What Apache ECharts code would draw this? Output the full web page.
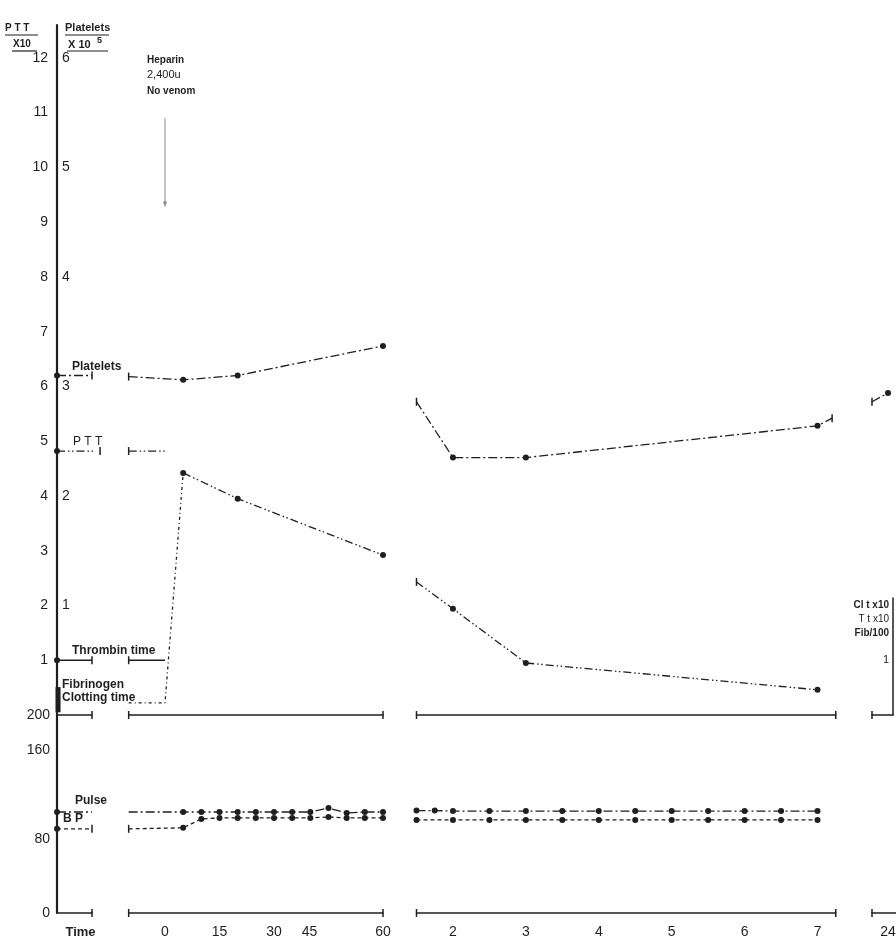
<!DOCTYPE html>
<html><head><meta charset="utf-8">
<script src="https://cdn.jsdelivr.net/npm/echarts@6/dist/echarts.min.js"></script>
<style>html,body{margin:0;padding:0;background:#fff}#c{width:896px;height:940px}</style>
</head><body><div id="c"></div>
<script>
// ================= DATA =================
// tick labels
const pttTicks = [1,2,3,4,5,6,7,8,9,10,11,12];          // PTT x10 (left, outside)
const plateletTicks = [1,2,3,4,5,6];                    // Platelets x10^5 (left, inside)
const vitalTicks = [0,80,160,200];                      // pulse / BP scale
const minuteTicks = [0,15,30,45,60];
const hourTicks = [2,3,4,5,6,7];
const dayTicks = [24];
const rightTicks = [1];                                 // Cl t x10 / T t x10 / Fib/100

// control ("Time") column: x 0 = axis, 1 = end of bracket
const ctlPlatelets = [[0,3.1],[1,3.1]];
const ctlPTT       = [[0,4.82],[1.23,4.82]];
const ctlThrombin  = [[0,1.0],[1,1.0]];
const ctlFibrinogen= [[0.03,0.05],[0.03,0.51]];
const ctlPulse     = [[0,102],[1,102]];
const ctlBP        = [[0,85],[1,85]];

// minutes column
const minPlatelets = [[-10,3.09],[5,3.06],[20,3.10],[60,3.37]];
const minPTTpre    = [[-10,4.82],[0,4.82]];
const minPTTpost   = [[5,4.42],[20,3.95],[60,2.92]];
const minThrombin  = [[-10,1.0],[0,1.0]];
const minClotting  = [[-10,0.22],[0,0.22],[5,4.42]];
const minHeparin   = [[0,10.9],[0,9.32]];
const minTimes     = [-10,5,10,15,20,25,30,35,40,45,50,55,60];
const minPulse     = [102,102,102,102,102,102,102,102,102,106,101,102,102];
const minBP        = [85,86,95,96,96,96,96,96,96,97,96,96,96];

// hours column
const hrPlatelets  = [[1.5,2.86],[2,2.35],[3,2.35],[7,2.64],[7.2,2.71]];
const hrPTT        = [[1.5,2.43],[2,1.94],[3,0.95],[7,0.46]];
const hrPulseTimes = [1.5,1.75,2,2.5,3,3.5,4,4.5,5,5.5,6,6.5,7];
const hrPulse      = [103.5,103.5,103,103,103,103,103,103,103,103,103,103,103];
const hrBPTimes    = [1.5,2,2.5,3,3.5,4,4.5,5,5.5,6,6.5,7];
const hrBP         = [94,94,94,94,94,94,94,94,94,94,94,94];

// 24 h column
const dayPlatelets = [[23.5,2.86],[24,2.94]];

// ================= CHART =================
const INK = '#1f1f1f';
const FONT = 'Liberation Sans';
const DASHDOT = [9,3,2,3];
const DASHDOT2 = [8,3,1.5,2.5,1.5,3];
const DASHED = [4,3];
const DOTTED = [3,3,1,3];

const TOP = 25, MID = 715, BOT = 913;
const topCols = [
  {left:57, width:35, min:0, max:1, caps:['none','rect']},
  {left:128.67, width:254.33, min:-10, max:60, caps:['rect','rect']},
  {left:416.5, width:419.25, min:1.5, max:7.25, caps:['rect','rect']},
  {left:872, width:21, min:23.5, max:24.15625, caps:['rect','none']}
];
const botCols = [
  {left:57, width:35, min:0, max:1, caps:['none','rect'], ticks:[], name:'Time'},
  {left:128.67, width:254.33, min:-10, max:60, interval:5, caps:['rect','rect'], ticks:minuteTicks},
  {left:416.5, width:419.25, min:1.5, max:7.25, interval:0.5, caps:['rect','rect'], ticks:hourTicks},
  {left:872, width:40, min:23.5, max:24.75, interval:0.5, caps:['rect','none'], ticks:dayTicks}
];

const grid = [], xAxis = [], yAxis = [];
const axLine = (caps) => ({show:true, onZero:false, symbol:caps, symbolSize:[8,1.5], lineStyle:{color:INK, width:1.5}});
const labelBase = {color:INK, fontFamily:FONT, fontSize:14};
const G = (left, width, top, height) => ({left, width, top, height, containLabel:false, outerBoundsMode:'none'});

topCols.forEach((c,i) => {
  grid.push(G(c.left, c.width, TOP, MID-TOP));
  xAxis.push({type:'value', gridIndex:i, min:c.min, max:c.max, axisLine:axLine(c.caps),
    axisTick:{show:false}, axisLabel:{show:false}, splitLine:{show:false}});
  const first = i === 0;
  yAxis.push({type:'value', gridIndex:i, min:0, max:12.6, interval:1, show:first,
    axisLine:{show:first, onZero:false, lineStyle:{color:INK, width:2.2}}, axisTick:{show:false}, splitLine:{show:false},
    axisLabel:Object.assign({}, labelBase, {show:first, margin:9,
      formatter:v => pttTicks.includes(v) ? String(v) : ''})});
  yAxis.push({type:'value', gridIndex:i, min:0, max:6.3, interval:1, show:first, position:'left',
    axisLine:{show:false, onZero:false}, axisTick:{show:false}, splitLine:{show:false},
    axisLabel:Object.assign({}, labelBase, {show:first, inside:true, margin:5,
      formatter:v => plateletTicks.includes(v) ? String(v) : ''})});
});
botCols.forEach((c,i) => {
  const g = 4 + i;
  grid.push(G(c.left, c.width, MID, BOT-MID));
  xAxis.push({type:'value', gridIndex:g, min:c.min, max:c.max, interval:c.interval,
    name:c.name || '', nameLocation:'middle', nameGap:13,
    nameTextStyle:{color:INK, fontFamily:FONT, fontSize:13, fontWeight:'bold', padding:[0,0,0,12]},
    axisLine:axLine(c.caps), axisTick:{show:false}, splitLine:{show:false},
    axisLabel:Object.assign({}, labelBase, {show:true, margin:12,
      formatter:v => c.ticks.includes(v) ? (v === 45 ? '{s|45}' : String(v)) : '',
      rich:{s:{color:INK, fontFamily:FONT, fontSize:14, padding:[0,38,0,0]}}})});
  const first = i === 0;
  yAxis.push({type:'value', gridIndex:g, min:0, max:200, interval:40, show:first,
    axisLine:{show:first, onZero:false, lineStyle:{color:INK, width:2.2}}, axisTick:{show:false}, splitLine:{show:false},
    axisLabel:Object.assign({}, labelBase, {show:first, margin:7,
      formatter:v => !vitalTicks.includes(v) ? '' : (v === 160 ? '{u|160}' : v === 80 ? '{d|80}' : String(v)),
      rich:{u:{color:INK, fontFamily:FONT, fontSize:14, padding:[0,0,8,0]},
            d:{color:INK, fontFamily:FONT, fontSize:14, padding:[10,0,0,0]}}})});
});
// small right-hand axis (Cl t, T t, Fib)
grid.push(G(872, 21, 598, MID-598));
xAxis.push({type:'value', gridIndex:8, min:0, max:1, show:false});
yAxis.push({type:'value', gridIndex:8, min:0, max:(MID-598)/((MID-58)/12), interval:1, position:'right',
  axisLine:{show:true, onZero:false, lineStyle:{color:INK, width:1.5}}, axisTick:{show:false}, splitLine:{show:false},
  axisLabel:{inside:true, margin:4, color:INK, fontFamily:FONT, fontSize:11,
    formatter:v => rightTicks.includes(v) ? String(v) : ''}});

const SYM = {o:'circle', '|':'rect', '-':'none'};
function line(gridIdx, yIdx, data, dash, marks, extra) {
  return Object.assign({
    type:'line', xAxisIndex:gridIdx, yAxisIndex:yIdx, data:data, clip:false,
    showAllSymbol:true, animation:false, silent:true,
    symbol:(v,p) => SYM[marks[p.dataIndex] || '-'],
    symbolSize:(v,p) => (marks[p.dataIndex] === '|') ? [1.5,8] : 6,
    itemStyle:{color:INK},
    lineStyle:{color:INK, width:1.3, type:dash}
  }, extra || {});
}
const zip = (xs, ys) => xs.map((x,i) => [x, ys[i]]);

const series = [
  // control column
  line(0,1, ctlPlatelets, DASHDOT, 'o|'),
  line(0,0, ctlPTT, DASHDOT2, 'o|'),
  line(0,0, ctlThrombin, 'solid', 'o|'),
  line(0,0, ctlFibrinogen, 'solid', '--', {lineStyle:{color:INK, width:5}}),
  line(4,8, ctlPulse, DASHDOT, 'o-'),
  line(4,8, ctlBP, DASHED, 'o|'),
  // minutes column
  line(1,3, minPlatelets, DASHDOT, '|ooo'),
  line(1,2, minPTTpre, DASHDOT2, '|-'),
  line(1,2, minPTTpost, DASHDOT2, 'ooo'),
  line(1,2, minThrombin, 'solid', '|-'),
  line(1,2, minClotting, DOTTED, '---'),
  line(1,2, minHeparin, 'solid', '--', {lineStyle:{color:'#8a8a8a', width:1},
    markPoint:{symbol:'triangle', symbolRotate:180, symbolSize:[4,6], itemStyle:{color:'#8a8a8a'},
      label:{show:false}, data:[{coord:minHeparin[1]}]}}),
  line(5,9, zip(minTimes, minPulse), DASHDOT, '-oooooooooooo'),
  line(5,9, zip(minTimes, minBP), DASHED, '|oooooooooooo'),
  // hours column
  line(2,5, hrPlatelets, DASHDOT, '|ooo|'),
  line(2,4, hrPTT, DASHDOT2, '|ooo'),
  line(6,10, zip(hrPulseTimes, hrPulse), DASHDOT, 'ooooooooooooo'),
  line(6,10, zip(hrBPTimes, hrBP), DASHED, 'oooooooooooo'),
  // 24 h column
  line(3,7, dayPlatelets, DASHDOT, '|o')
];

const T = (text, x, y, size, weight, align) => ({type:'text', silent:true, style:{text:text, x:x, y:y,
  font:(weight||'bold') + ' ' + size + 'px "' + FONT + '"', fill:INK,
  textAlign:align||'left', align:align||'left', textVerticalAlign:'middle', verticalAlign:'middle'}});
const L = (x1,y1,x2,y2,w) => ({type:'line', silent:true, shape:{x1:x1,y1:y1,x2:x2,y2:y2}, style:{stroke:INK, lineWidth:w||1.2}});

const graphic = [
  T('P T T', 5, 28, 10), L(5,35,38,35),
  T('X10', 13, 44, 10), L(12,51,37,51),
  T('Platelets', 65, 28, 11), L(65,35,109,35),
  T('X 10', 68, 45, 11), T('5', 97, 41, 9), L(67,51,108,51),
  T('Heparin', 147, 60, 10), T('2,400u', 147, 75, 11, 'normal'), T('No venom', 147, 91, 10),
  T('Platelets', 72, 367, 12),
  T('P T T', 73, 442, 12, 'normal'),
  T('Thrombin time', 72, 651, 12),
  T('Fibrinogen', 62, 685, 12),
  T('Clotting time', 62, 698, 12),
  T('Pulse', 75, 801, 12),
  T('B P', 63, 819, 12),
  T('Cl t x10', 889, 605, 10, 'bold', 'right'),
  T('T t x10', 889, 619, 10, 'normal', 'right'),
  T('Fib/100', 889, 633, 10, 'bold', 'right')
];

const chart = echarts.init(document.getElementById('c'));
chart.setOption({backgroundColor:'#ffffff', animation:false, grid, xAxis, yAxis, series, graphic});
</script></body></html>
